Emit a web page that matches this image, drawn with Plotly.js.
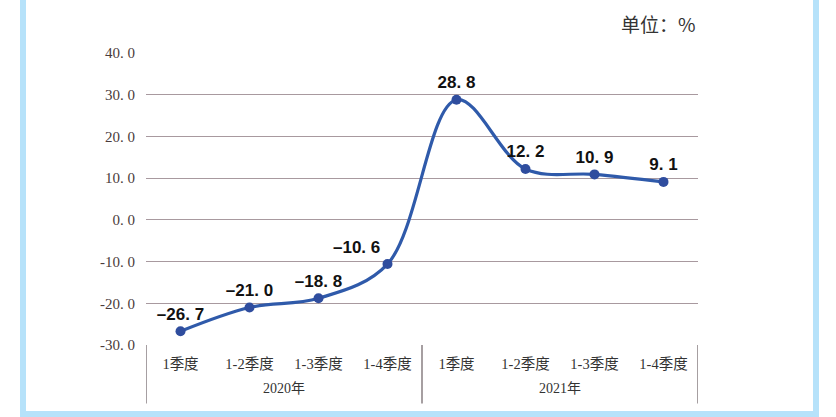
<!DOCTYPE html>
<html>
<head>
<meta charset="utf-8">
<script src="https://cdn.plot.ly/plotly-3.0.1.min.js"></script>
<style>
  html, body { margin: 0; padding: 0; background: #ffffff; }
  #frame { position: absolute; left: 20px; top: -10px; width: 787px; height: 421px;
           border-left: 6px solid #b6e2fa; border-right: 6px solid #b6e2fa; border-bottom: 6px solid #b6e2fa; }
  #chart { position: absolute; left: 0; top: 0; width: 836px; height: 417px; }
</style>
</head>
<body>
<div id="frame"></div>
<div id="chart"></div>
<script>
const years = ["2020年", "2021年"];
const periods = ["1季度", "1-2季度", "1-3季度", "1-4季度", "1季度", "1-2季度", "1-3季度", "1-4季度"];
const growth = [-26.7, -21.0, -18.8, -10.6, 28.8, 12.2, 10.9, 9.1];
const yTicks = [-30, -20, -10, 0, 10, 20, 30, 40];
const unitLabel = "单位：%";

const xIdx = periods.map((p, i) => i);
const perYear = periods.length / years.length;
const labelPos = growth.map((v, i) => i === 3 ? "top left" : "top center");

const trace = {
  type: "scatter",
  mode: "lines+markers+text",
  x: xIdx,
  y: growth,
  text: growth.map(v => v.toFixed(1).replace("-", "–").replace(".", ". ")),
  textposition: labelPos,
  textfont: { family: "Liberation Sans, Arial, sans-serif", size: 17, color: "#111111", weight: "bold" },
  line: { shape: "spline", smoothing: 1, color: "#2f5aaa", width: 3.2 },
  marker: { size: 10, color: "#2f4d9e" },
  cliponaxis: false,
  hoverinfo: "skip"
};

const divH = 0.2;
const shapes = [];
for (let g = 0; g <= years.length; g++) {
  const xv = g * perYear - 0.5;
  shapes.push({ type: "line", xref: "x", yref: "paper", x0: xv, x1: xv, y0: 0, y1: -divH,
                line: { color: "#6b5f63", width: 1.2 } });
}
const annotations = years.map((y, g) => ({
  text: y, xref: "x", yref: "paper", x: g * perYear + (perYear - 1) / 2, y: 0,
  yanchor: "middle", yshift: -43, showarrow: false,
  font: { size: 14, family: "Liberation Serif, Noto Sans CJK SC, serif", color: "#333333" }
}));
annotations.push({
  text: unitLabel, xref: "paper", yref: "paper", x: 1, y: 1,
  xanchor: "right", yanchor: "bottom", yshift: 14, showarrow: false,
  font: { size: 19, family: "Noto Sans CJK SC, serif", color: "#333333" }
});

const layout = {
  width: 836, height: 417,
  margin: { l: 146, r: 138, t: 53, b: 72 },
  paper_bgcolor: "rgba(0,0,0,0)",
  plot_bgcolor: "rgba(0,0,0,0)",
  showlegend: false,
  font: { family: "Liberation Serif, Noto Sans CJK SC, serif", color: "#333333" },
  xaxis: {
    range: [-0.5, periods.length - 0.5],
    tickvals: xIdx,
    ticktext: periods,
    showgrid: false,
    showline: false,
    zeroline: false,
    ticks: "",
    ticklabelstandoff: 8,
    tickfont: { size: 14.5, family: "Liberation Serif, Noto Sans CJK SC, serif", color: "#333333" }
  },
  yaxis: {
    range: [-30, 40],
    tickvals: yTicks,
    ticktext: yTicks.map(v => v.toFixed(1).replace(".", ". ")),
    showgrid: true,
    gridcolor: "#a8999f",
    gridwidth: 1,
    zeroline: true,
    zerolinecolor: "#a8999f",
    zerolinewidth: 1,
    showline: false,
    ticks: "",
    ticklabelstandoff: 10,
    tickfont: { size: 15, family: "Liberation Serif, serif", color: "#4a3b3b" }
  },
  shapes: shapes,
  annotations: annotations
};

Plotly.newPlot("chart", [trace], layout, { displayModeBar: false, staticPlot: true });
</script>
</body>
</html>
